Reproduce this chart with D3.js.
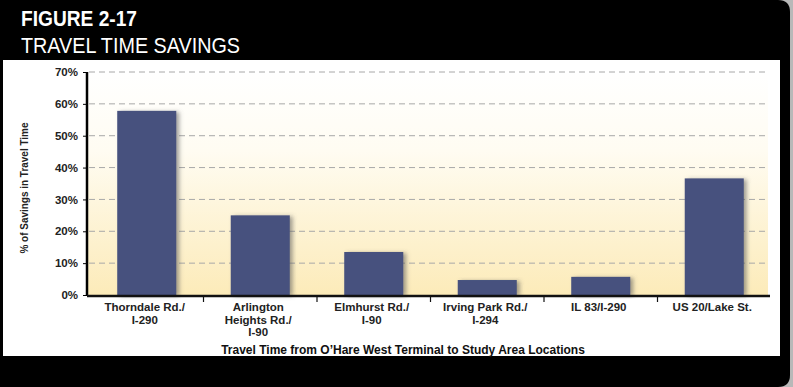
<!DOCTYPE html>
<html>
<head>
<meta charset="utf-8">
<script src="https://cdn.jsdelivr.net/npm/d3@7"></script>
<style>
  body { margin: 0; background: #b8b8b8; }
  svg { display: block; font-family: "Liberation Sans", Arial, sans-serif; }
</style>
</head>
<body>
<div class="chart"></div>
<script>
// chart data
var locations = ["Thorndale Rd./|I-290", "Arlington|Heights Rd./|I-90", "Elmhurst Rd./|I-90",
                 "Irving Park Rd./|I-294", "IL 83/I-290", "US 20/Lake St."];
var savings = [57.8, 25, 13.5, 4.7, 5.7, 36.6];
var yTicks = [0, 10, 20, 30, 40, 50, 60, 70];

var svgWidth = 793;
var svgHeight = 387;

var svg = d3.select(".chart")
  .append("svg")
  .attr("width", svgWidth)
  .attr("height", svgHeight);

var defs = svg.append("defs");

var grad = defs.append("linearGradient")
  .attr("id", "bg").attr("x1", 0).attr("y1", 0).attr("x2", 0).attr("y2", 1);
grad.append("stop").attr("offset", "0%").attr("stop-color", "#ffffff");
grad.append("stop").attr("offset", "35%").attr("stop-color", "#fffcf2");
grad.append("stop").attr("offset", "100%").attr("stop-color", "#fcebb9");

var shadow = defs.append("filter").attr("id", "shadow")
  .attr("x", "-20%").attr("y", "-20%").attr("width", "150%").attr("height", "140%");
shadow.append("feDropShadow")
  .attr("dx", 3).attr("dy", 1).attr("stdDeviation", 2)
  .attr("flood-color", "#555").attr("flood-opacity", 0.55);

// black frame, rounded on the right side
svg.append("path")
  .attr("d", "M0,0 H778 Q790,0 790,12 V375 Q790,387 778,387 H0 Z")
  .attr("fill", "#000");

// white panel
svg.append("rect")
  .attr("x", 3).attr("y", 60)
  .attr("width", 777).attr("height", 296)
  .attr("fill", "#fff");

// titles
svg.append("text")
  .attr("x", 21).attr("y", 26)
  .attr("fill", "#fff")
  .attr("font-size", 22).attr("font-weight", "bold")
  .attr("textLength", 116).attr("lengthAdjust", "spacingAndGlyphs")
  .text("FIGURE 2-17");

svg.append("text")
  .attr("x", 21).attr("y", 53)
  .attr("fill", "#fff")
  .attr("font-size", 22)
  .attr("textLength", 219).attr("lengthAdjust", "spacingAndGlyphs")
  .text("TRAVEL TIME SAVINGS");

// scales
var axisX = 87;
var y = d3.scaleLinear().domain([0, 70]).range([295, 72]);
var x = d3.scaleBand()
  .domain(locations)
  .range([90, 771])
  .paddingInner(0.48)
  .paddingOuter(0.24);

// plot background
svg.append("rect")
  .attr("x", axisX).attr("y", y(70))
  .attr("width", 681).attr("height", y(0) - y(70))
  .attr("fill", "url(#bg)");

// gridlines
svg.append("g")
  .selectAll("line")
  .data(yTicks.slice(1))
  .join("line")
  .attr("x1", axisX + 2).attr("x2", 766)
  .attr("y1", d => y(d)).attr("y2", d => y(d))
  .attr("stroke", "#a8a8a8")
  .attr("stroke-width", 1)
  .attr("stroke-dasharray", "6,4");

// bars
svg.append("g")
  .selectAll("rect")
  .data(savings)
  .join("rect")
  .attr("x", (d, i) => x(locations[i]))
  .attr("y", d => y(d))
  .attr("width", x.bandwidth())
  .attr("height", d => y(0) - y(d))
  .attr("fill", "#46517e")
  .attr("filter", "url(#shadow)");

// y axis
var yAxis = svg.append("g")
  .attr("transform", `translate(${axisX},0)`)
  .call(d3.axisLeft(y).tickValues(yTicks).tickFormat(d => d + "%").tickSize(4).tickPadding(5));
yAxis.select(".domain").attr("stroke", "#000").attr("stroke-width", 2.5)
  .attr("d", `M0,${y(70)}V${y(0)}`);
yAxis.selectAll("text")
  .attr("font-size", 11.5).attr("font-weight", "bold")
  .attr("font-family", "'Liberation Sans', Arial, sans-serif")
  .attr("fill", "#222");

// x axis line and boundary ticks
svg.append("line")
  .attr("x1", axisX).attr("x2", 770)
  .attr("y1", y(0) + 1).attr("y2", y(0) + 1)
  .attr("stroke", "#111").attr("stroke-width", 2.5);

svg.append("g")
  .selectAll("line")
  .data(locations.slice(1))
  .join("line")
  .attr("x1", d => x(d) - x.step() * x.paddingInner() / 2)
  .attr("x2", d => x(d) - x.step() * x.paddingInner() / 2)
  .attr("y1", y(0) + 1).attr("y2", y(0) + 7)
  .attr("stroke", "#111").attr("stroke-width", 1.2);

// category labels
var labels = svg.append("g")
  .selectAll("text")
  .data(locations)
  .join("text")
  .attr("x", d => x(d) + x.bandwidth() / 2 - 2)
  .attr("y", 311)
  .attr("text-anchor", "middle")
  .attr("font-size", 11.5).attr("font-weight", "bold")
  .attr("fill", "#222");

labels.selectAll("tspan")
  .data(d => d.split("|"))
  .join("tspan")
  .attr("x", function() { return d3.select(this.parentNode).attr("x"); })
  .attr("dy", (d, i) => i === 0 ? 0 : 12.5)
  .text(d => d);

// axis titles
svg.append("text")
  .attr("x", 403).attr("y", 354)
  .attr("text-anchor", "middle")
  .attr("font-size", 12).attr("font-weight", "bold")
  .attr("fill", "#111")
  .text("Travel Time from O\u2019Hare West Terminal to Study Area Locations");

svg.append("text")
  .attr("transform", "translate(28,188) rotate(-90)")
  .attr("text-anchor", "middle")
  .attr("font-size", 10.5).attr("font-weight", "bold")
  .attr("fill", "#222")
  .attr("textLength", 131).attr("lengthAdjust", "spacingAndGlyphs")
  .text("% of Savings in Travel Time");
</script>
</body>
</html>
